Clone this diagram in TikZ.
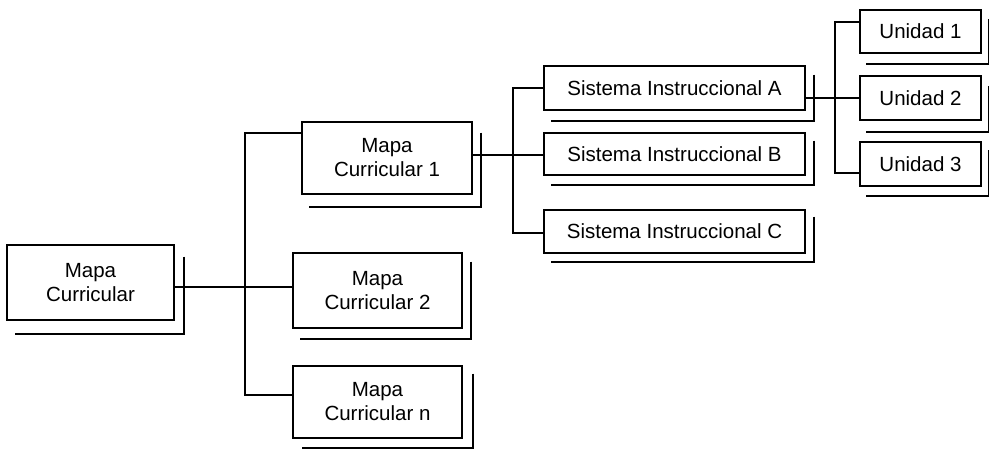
\documentclass[tikz,border=0pt]{standalone}
\usepackage{fontspec}
\setmainfont{Liberation Sans}
\usetikzlibrary{calc}

\tikzset{
  box/.style={draw=black, line width=2.6pt, fill=white, inner sep=0pt,
    align=center, font=\fontsize{20.5}{24}\selectfont},
  mapbox/.style={box, minimum width=169pt},
  sisbox/.style={box, minimum width=261pt, minimum height=43pt},
  unibox/.style={box, minimum width=121pt, minimum height=44pt},
  link/.style={draw=black, line width=2pt},
  dropline/.style={draw=black, line width=2pt}
}

% offset outline along the right and bottom sides of a box
\newcommand\boxdrop[3]{%
  \draw[dropline] ($(#1.north east)+(#2,#3)$) |- ($(#1.south west)+(#2,#3)$);}

\begin{document}
\begin{tikzpicture}[x=1pt, y=-1pt]
  \useasboundingbox (0,0) rectangle (989,448);

  % boxes
  \node[box, minimum width=167pt, minimum height=75pt] (mc0) at (90.5,282.5) {Mapa\\Curricular};
  \node[mapbox, minimum width=170pt, minimum height=72pt] (mc1) at (387,158) {Mapa\\Curricular 1};
  \node[mapbox, minimum height=75pt] (mc2) at (377.5,290.5) {Mapa\\Curricular 2};
  \node[mapbox, minimum height=72pt] (mcn) at (377.5,402) {Mapa\\Curricular n};

  \node[sisbox, minimum height=44pt] (sa) at (674.5,88) {Sistema Instruccional A};
  \node[sisbox, minimum height=42pt] (sb) at (674.5,154) {Sistema Instruccional B};
  \node[sisbox] (sc) at (674.5,231.5) {Sistema Instruccional C};

  \node[unibox, minimum height=43pt] (u1) at (920.5,31.5) {Unidad 1};
  \node[unibox] (u2) at (920.5,98) {Unidad 2};
  \node[unibox] (u3) at (920.5,164) {Unidad 3};

  % offset outlines
  \boxdrop{mc0}{9}{13}
  \boxdrop{mc1}{8}{12}
  \boxdrop{mc2}{8}{10}
  \boxdrop{mcn}{10}{9}
  \boxdrop{sa}{8}{10}
  \boxdrop{sb}{8}{9}
  \boxdrop{sc}{8}{8}
  \boxdrop{u1}{7}{10}
  \boxdrop{u2}{7}{11}
  \boxdrop{u3}{7}{9}

  % junction points
  \coordinate (j0) at (245,287);
  \coordinate (t0) at (245,133);
  \coordinate (t1) at (245,395);
  \coordinate (sj) at (513,155);
  \coordinate (s0) at (513,88);
  \coordinate (s1) at (513,233);
  \coordinate (uj) at (835,98);
  \coordinate (ua) at (835,22);
  \coordinate (ub) at (835,173);

  % connectors
  \draw[link] (mc0.east |- j0) -- (mc2.west |- j0);
  \draw[link] (mc1.west |- t0) -- (t0) -- (t1) -- (mcn.west |- t1);
  \draw[link] (mc1.east |- sj) -- (sb.west |- sj);
  \draw[link] (sa.west |- s0) -- (s0) -- (s1) -- (sc.west |- s1);
  \draw[link] (sa.east |- uj) -- (u2.west |- uj);
  \draw[link] (u1.west |- ua) -- (ua) -- (ub) -- (u3.west |- ub);
\end{tikzpicture}
\end{document}
